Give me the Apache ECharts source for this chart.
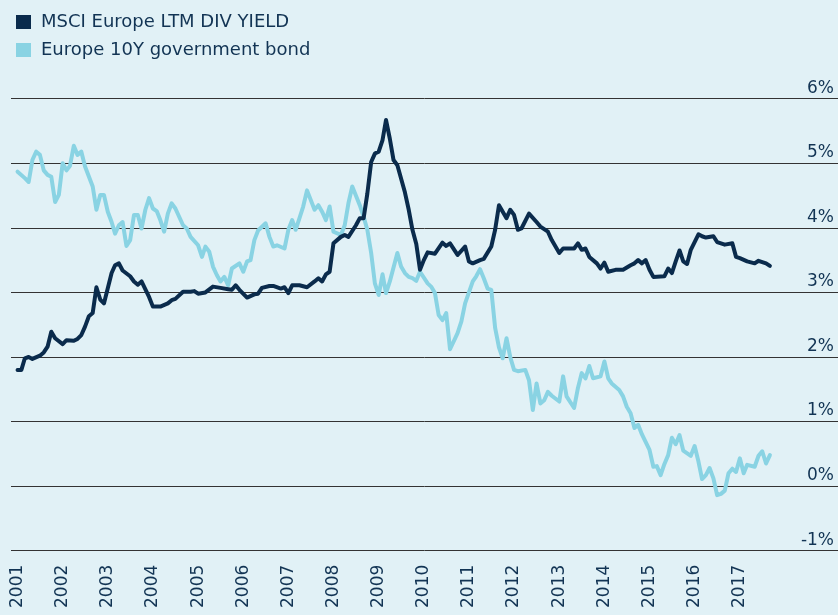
<!DOCTYPE html>
<html>
<head>
<meta charset="utf-8">
<script src="https://cdn.jsdelivr.net/npm/echarts@6/dist/echarts.min.js"></script>
<style>
  html, body { margin: 0; padding: 0; background: #e1f1f6; }
  #chart { width: 838px; height: 615px; }
</style>
</head>
<body>
<div id="chart"></div>
<script>
const seriesNames = ['MSCI Europe LTM DIV YIELD', 'Europe 10Y government bond'];
const yTicks = [-1, 0, 1, 2, 3, 4, 5, 6];
const yearLabels = ['2001','2002','2003','2004','2005','2006','2007','2008','2009','2010','2011','2012','2013','2014','2015','2016','2017'];

const msciDates = ['2001-01','2001-02','2001-03','2001-04','2001-05','2001-07','2001-08','2001-09','2001-10','2001-11',
  '2002-01','2002-02','2002-04','2002-05','2002-06','2002-07','2002-08','2002-09','2002-10','2002-11','2002-12',
  '2003-02','2003-03','2003-04','2003-05','2003-07','2003-08','2003-09','2003-10','2003-12',
  '2004-01','2004-03','2004-05','2004-06','2004-07','2004-09','2004-11','2004-12',
  '2005-01','2005-03','2005-05','2005-07','2005-09','2005-10','2005-11','2005-12',
  '2006-02','2006-04','2006-05','2006-06','2006-08','2006-09','2006-11','2006-12',
  '2007-01','2007-02','2007-04','2007-06','2007-08','2007-09','2007-10','2007-11','2007-12',
  '2008-01','2008-03','2008-04','2008-05','2008-07','2008-08','2008-09','2008-10','2008-11','2008-12',
  '2009-01','2009-02','2009-03','2009-04','2009-05','2009-06','2009-08','2009-09','2009-10','2009-11','2009-12',
  '2010-01','2010-02','2010-04','2010-06','2010-07','2010-08','2010-10','2010-12',
  '2011-01','2011-02','2011-04','2011-05','2011-07','2011-08','2011-09','2011-11','2011-12',
  '2012-01','2012-02','2012-03','2012-05','2012-07','2012-08','2012-10','2012-11',
  '2013-01','2013-02','2013-04','2013-05','2013-06','2013-07','2013-08','2013-09','2013-11','2013-12',
  '2014-01','2014-02','2014-04','2014-06','2014-08','2014-09','2014-10','2014-11','2014-12',
  '2015-01','2015-02','2015-05','2015-06','2015-07','2015-08','2015-09','2015-10','2015-11','2015-12',
  '2016-01','2016-02','2016-03','2016-04','2016-06','2016-07','2016-09','2016-11','2016-12',
  '2017-01','2017-03','2017-05','2017-06','2017-07','2017-08','2017-09'];
const msciValues = [1.80,1.80,1.98,2.00,1.97,2.02,2.07,2.16,2.39,2.29,
  2.20,2.26,2.25,2.28,2.34,2.47,2.63,2.68,3.08,2.89,2.83,
  3.30,3.42,3.45,3.34,3.25,3.17,3.12,3.17,2.93,
  2.78,2.78,2.83,2.88,2.90,3.01,3.01,3.02,
  2.98,3.00,3.09,3.07,3.05,3.04,3.11,3.04,
  2.92,2.97,2.98,3.07,3.10,3.10,3.06,3.08,
  2.99,3.11,3.11,3.08,3.17,3.22,3.17,3.28,3.32,
  3.76,3.86,3.89,3.86,4.04,4.15,4.15,4.53,5.02,5.15,
  5.18,5.36,5.67,5.38,5.05,4.97,4.55,4.28,3.97,3.75,3.35,
  3.50,3.62,3.60,3.77,3.72,3.76,3.58,3.71,
  3.48,3.45,3.50,3.52,3.71,3.97,4.35,4.15,4.28,
  4.20,3.97,3.99,4.22,4.09,4.02,3.94,3.81,
  3.61,3.68,3.68,3.68,3.76,3.66,3.68,3.55,3.45,3.37,
  3.46,3.32,3.35,3.35,3.42,3.45,3.50,3.45,3.50,
  3.35,3.24,3.25,3.37,3.30,3.48,3.65,3.48,3.44,3.66,
  3.78,3.90,3.87,3.85,3.87,3.78,3.74,3.76,3.55,
  3.53,3.48,3.45,3.49,3.47,3.45,3.41];

const bondDates = ['2001-01','2001-03','2001-04','2001-05','2001-06','2001-07','2001-08','2001-09','2001-10','2001-11','2001-12',
  '2002-01','2002-02','2002-03','2002-04','2002-05','2002-06','2002-07','2002-09','2002-10','2002-11','2002-12',
  '2003-01','2003-02','2003-03','2003-04','2003-05','2003-06','2003-07','2003-08','2003-09','2003-10','2003-11','2003-12',
  '2004-01','2004-02','2004-03','2004-04','2004-05','2004-06','2004-07','2004-09','2004-10','2004-11',
  '2005-01','2005-02','2005-03','2005-04','2005-05','2005-06','2005-07','2005-08','2005-09','2005-10','2005-12',
  '2006-01','2006-02','2006-03','2006-04','2006-05','2006-07','2006-08','2006-09','2006-10','2006-12',
  '2007-01','2007-02','2007-03','2007-04','2007-05','2007-06','2007-08','2007-09','2007-10','2007-11','2007-12',
  '2008-01','2008-03','2008-04','2008-05','2008-06','2008-08','2008-09','2008-10','2008-11','2008-12',
  '2009-01','2009-02','2009-03','2009-04','2009-06','2009-07','2009-08','2009-09','2009-10','2009-11','2009-12',
  '2010-02','2010-03','2010-04','2010-05','2010-06','2010-07','2010-08','2010-10','2010-11','2010-12',
  '2011-02','2011-03','2011-04','2011-05','2011-06','2011-07','2011-08','2011-09','2011-10','2011-11','2011-12',
  '2012-01','2012-02','2012-04','2012-05','2012-06','2012-07','2012-08','2012-09','2012-10','2012-11',
  '2013-01','2013-02','2013-03','2013-05','2013-06','2013-07','2013-08','2013-09','2013-10','2013-12',
  '2014-01','2014-02','2014-03','2014-05','2014-06','2014-07','2014-08','2014-09','2014-10','2014-11',
  '2015-01','2015-02','2015-03','2015-04','2015-05','2015-06','2015-07','2015-08','2015-09','2015-10','2015-12',
  '2016-01','2016-02','2016-03','2016-04','2016-05','2016-06','2016-07','2016-08','2016-09','2016-10','2016-11','2016-12',
  '2017-01','2017-02','2017-03','2017-05','2017-06','2017-07','2017-08','2017-09'];
const bondValues = [4.87,4.77,4.71,5.05,5.18,5.13,4.89,4.82,4.79,4.40,4.51,
  5.00,4.89,4.96,5.27,5.13,5.18,4.95,4.64,4.28,4.51,4.51,
  4.25,4.09,3.91,4.04,4.09,3.72,3.81,4.20,4.20,3.99,4.28,4.46,
  4.30,4.26,4.12,3.94,4.22,4.38,4.30,4.04,3.99,3.86,
  3.73,3.55,3.71,3.63,3.40,3.27,3.17,3.24,3.11,3.37,3.45,
  3.32,3.48,3.50,3.81,3.96,4.07,3.86,3.71,3.73,3.68,
  3.97,4.12,3.97,4.15,4.33,4.58,4.28,4.35,4.25,4.12,4.33,
  3.94,3.89,4.04,4.38,4.64,4.35,4.17,3.97,3.61,3.14,
  2.96,3.28,2.99,3.17,3.61,3.40,3.30,3.24,3.22,3.18,3.32,
  3.14,3.09,2.99,2.65,2.57,2.68,2.12,2.37,2.55,2.83,
  3.17,3.25,3.36,3.22,3.06,3.04,2.45,2.15,1.98,2.29,2.00,
  1.80,1.78,1.80,1.64,1.18,1.59,1.28,1.33,1.46,1.40,
  1.31,1.70,1.39,1.21,1.52,1.75,1.67,1.86,1.67,1.70,
  1.93,1.67,1.59,1.49,1.39,1.23,1.13,0.90,0.95,0.80,
  0.56,0.30,0.31,0.17,0.34,0.48,0.75,0.65,0.79,0.55,0.47,
  0.62,0.38,0.11,0.17,0.28,0.12,-0.14,-0.12,-0.07,0.20,0.27,0.22,
  0.43,0.20,0.33,0.30,0.47,0.54,0.35,0.48];

const toPairs = (d, v) => d.map((s, i) => [s, v[i]]);
const textColor = '#123454';
const fontFam = '"DejaVu Sans", sans-serif';

const chart = echarts.init(document.getElementById('chart'));
const yearMs = 365 * 24 * 3600 * 1000;
chart.setOption({
  backgroundColor: '#e1f1f6',
  animation: false,
  legend: {
    data: seriesNames,
    orient: 'vertical',
    left: 11, top: 7,
    icon: 'rect', itemWidth: 15, itemHeight: 14, itemGap: 8,
    textStyle: { fontSize: 18, color: textColor, fontFamily: fontFam, padding: [0, 0, 0, 5], lineHeight: 20 }
  },
  grid: { left: 11, right: 0, top: 98.7, bottom: 64.3, containLabel: false },
  xAxis: {
    type: 'time',
    min: '2000-11-09', max: '2019-03-06',
    minInterval: yearMs, maxInterval: yearMs + 2 * 24 * 3600 * 1000,
    splitNumber: 18,
    axisLine: { show: false }, axisTick: { show: false }, splitLine: { show: false },
    axisLabel: {
      rotate: 90, margin: 14, fontSize: 17, color: textColor, fontFamily: fontFam,
      hideOverlap: false,
      formatter: function (val) {
        const y = String(new Date(val).getFullYear());
        return yearLabels.indexOf(y) >= 0 ? y : '';
      }
    }
  },
  yAxis: {
    type: 'value', position: 'right',
    min: yTicks[0], max: yTicks[yTicks.length - 1], interval: 1,
    axisLine: { show: false }, axisTick: { show: false },
    splitLine: { lineStyle: { color: '#333', width: 1 } },
    axisLabel: {
      inside: true, margin: 4, verticalAlign: 'bottom', padding: [0, 0, 2, 0],
      fontSize: 17, color: textColor, fontFamily: fontFam,
      formatter: '{value}%'
    }
  },
  series: [
    {
      name: seriesNames[1], type: 'line', data: toPairs(bondDates, bondValues),
      showSymbol: false, symbol: 'none', lineStyle: { width: 4, color: '#89d3e3', join: 'round', cap: 'round' },
      itemStyle: { color: '#89d3e3' }
    },
    {
      name: seriesNames[0], type: 'line', data: toPairs(msciDates, msciValues),
      showSymbol: false, symbol: 'none', lineStyle: { width: 4, color: '#0a2b4c', join: 'round', cap: 'round' },
      itemStyle: { color: '#0a2b4c' }
    }
  ]
});
</script>
</body>
</html>
